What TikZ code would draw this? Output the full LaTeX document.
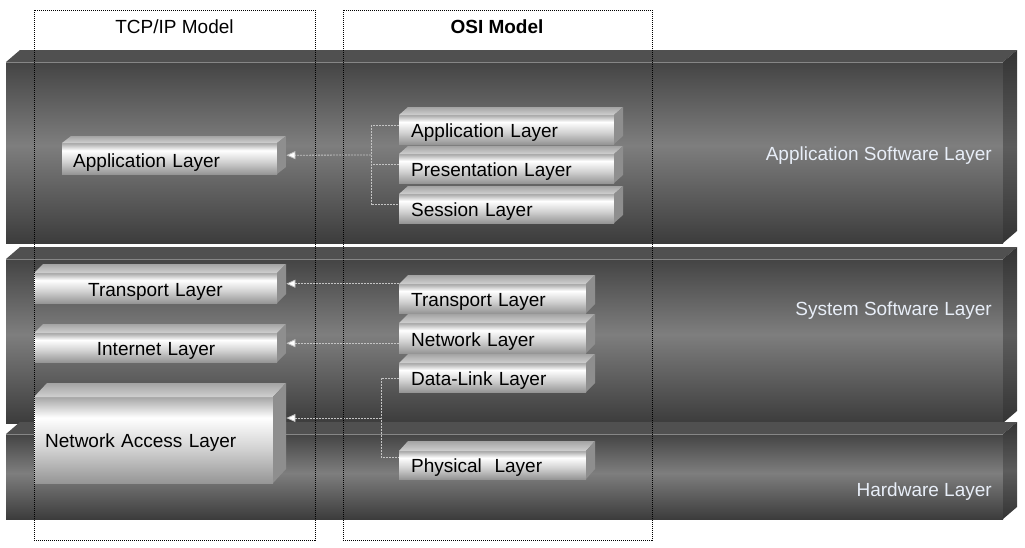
\documentclass[tikz,border=0pt]{standalone}
\usepackage{fontspec}
\setmainfont{Liberation Sans}
\usetikzlibrary{arrows.meta,calc}

\definecolor{slabdark}{HTML}{3C3C3C}
\definecolor{slabtopdark}{HTML}{444444}
\definecolor{slabmid}{HTML}{7E7E7E}
\definecolor{slabtopc}{HTML}{505050}
\definecolor{slabedgec}{HTML}{868686}
\definecolor{sidedark}{HTML}{343434}
\definecolor{sidemid}{HTML}{5C5C5C}
\definecolor{barfronttop}{HTML}{A6A6A6}
\definecolor{barfrontmid}{HTML}{D2D2D2}
\definecolor{barfrontbot}{HTML}{969696}
\definecolor{bartopback}{HTML}{A4A4A4}
\definecolor{bartopfront}{HTML}{D0D0D0}
\definecolor{barsidedark}{HTML}{8E8E8E}
\definecolor{barsidelight}{HTML}{C8C8C8}
\definecolor{labelc}{HTML}{E8EEF8}
\definecolor{connc}{HTML}{C4C4C4}

\pgfdeclareverticalshading{slabfront}{100bp}{color(0bp)=(slabdark); color(25bp)=(slabdark); color(52bp)=(slabmid); color(75bp)=(slabtopdark); color(100bp)=(slabtopdark)}
\pgfdeclareverticalshading{slabside}{100bp}{color(0bp)=(sidedark); color(25bp)=(sidedark); color(50bp)=(sidemid); color(75bp)=(sidedark); color(100bp)=(sidedark)}
\pgfdeclareverticalshading{barfront}{100bp}{color(0bp)=(barfrontbot); color(25bp)=(barfrontbot); color(45bp)=(barfrontmid); color(63bp)=(white); color(75bp)=(barfronttop); color(100bp)=(barfronttop)}

% #1 y top of front face, #2 y bottom of front face
\newcommand\mkslab[2]{%
  \shade[shading=slabfront] (6,#1) rectangle (1003,#2);
  \fill[slabtopc] (6,#1) -- (20,#1-12) -- (1017,#1-12) -- (1003,#1) -- cycle;
  \draw[slabedgec, line width=0.8pt] (6,#1) -- (1003,#1);
  \shade[shading=slabside] (1003,#1) -- (1017,#1-12) -- (1017,#2-12) -- (1003,#2) -- cycle;
}

% #1 name, #2 x, #3 y (back top), #4 total width, #5 total height, #6 dx, #7 dy, #8 options, #9 text
\newcommand\mkbar[9]{%
  \shade[shading=barfront] (#2,#3+#7) rectangle (#2+#4-#6,#3+#5);
  \shade[top color=bartopback, bottom color=bartopfront]
    (#2,#3+#7) -- (#2+#6,#3) -- (#2+#4,#3) -- (#2+#4-#6,#3+#7) -- cycle;
  \shade[top color=barsidedark, middle color=barsidelight, bottom color=barsidedark]
    (#2+#4-#6,#3+#7) -- (#2+#4,#3) -- (#2+#4,#3+#5-#7) -- (#2+#4-#6,#3+#5) -- cycle;
  \node[bartext, minimum width=#4pt, minimum height=#5pt, #8] (#1) at (#2,#3) {#9};
}

\tikzset{
  every node/.style={font=\fontsize{19}{22}\selectfont},
  bartext/.style={anchor=north west, inner ysep=0pt, align=left, text depth=0pt, text=black},
  slablabel/.style={anchor=base east, text=labelc, inner sep=0pt},
  title/.style={anchor=base, inner sep=0pt},
  frame/.style={draw=black, line width=0.7pt, dash pattern=on 1pt off 1pt},
  conn/.style={draw=connc, line width=0.8pt, dash pattern=on 2pt off 1pt},
  connarrow/.style={conn, -{Triangle[length=9pt,width=8pt,fill=white]}}
}

\begin{document}
\begin{tikzpicture}[x=1pt,y=-1pt]
\useasboundingbox (0,0) rectangle (1025,547);

% slabs
\mkslab{62}{243}
\mkslab{259}{423}
\mkslab{434}{519}

\node[slablabel] (lapp) at (992,160) {Application Software Layer};
\node[slablabel] (lsys) at (992,315.3) {System Software Layer};
\node[slablabel] (lhw) at (992,496.7) {Hardware Layer};

% TCP/IP boxes
\mkbar{tapp}{62}{136}{224}{38}{9}{7}{inner xsep=11pt, text width=202pt, text height=25pt}{Application Layer}
\mkbar{ttrans}{34}{264}{252}{39}{9}{9}{inner xsep=54pt, text width=144pt, text height=26pt}{Transport Layer}
\mkbar{tint}{34}{324}{252}{38}{9}{9}{inner xsep=62.7pt, text width=126.6pt, text height=25pt}{Internet Layer}
\mkbar{tna}{34}{383}{252}{100}{13}{14}{inner xsep=11pt, text width=230pt, text height=29pt}{Network Access Layer}

% OSI boxes
\mkbar{oapp}{399}{107}{224}{37}{9}{8}{inner xsep=12pt, text width=200pt, text height=24pt}{Application Layer}
\mkbar{opres}{399}{146}{224}{37}{9}{8}{inner xsep=12pt, text width=200pt, text height=24pt}{Presentation Layer}
\mkbar{osess}{399}{186}{224}{37}{9}{8}{inner xsep=12pt, text width=200pt, text height=24pt}{Session Layer}
\mkbar{otrans}{399}{275}{196}{38}{9}{9}{inner xsep=12pt, text width=172pt, text height=25pt}{Transport Layer}
\mkbar{onet}{399}{314}{196}{39}{9}{9}{inner xsep=12pt, text width=172pt, text height=26pt}{Network Layer}
\mkbar{odl}{399}{354}{196}{38}{9}{9}{inner xsep=12pt, text width=172pt, text height=25pt}{Data-Link Layer}
\mkbar{ophys}{399}{441}{196}{38}{9}{10}{inner xsep=12pt, text width=172pt, text height=25pt}{Physical~ Layer}

% connectors
\coordinate (j1) at (371,155);
\coordinate (j2) at (381,418);
\draw[conn] (oapp.west) -| (j1) |- (osess.west);
\draw[conn] (opres.west) -- (opres.west -| j1);
\draw[connarrow] (j1) -- (tapp.east);
\draw[connarrow] (otrans.west |- ttrans.east) -- (ttrans.east);
\draw[connarrow] (onet.west |- tint.east) -- (tint.east);
\draw[conn] ([yshift=-5pt]odl.west) -| (j2) |- ([yshift=3pt]ophys.west);
\draw[connarrow] (j2) -- (j2 -| tna.east);

% model frames and titles
\draw[frame] (34,10) rectangle (315,540);
\draw[frame] (343,10) rectangle (652,540);
\node[title] (ttcp) at (174.5,33.3) {TCP/IP Model};
\node[title, font=\fontsize{19}{22}\selectfont\bfseries] (tosi) at (497,33.3) {OSI Model};
\end{tikzpicture}
\end{document}
